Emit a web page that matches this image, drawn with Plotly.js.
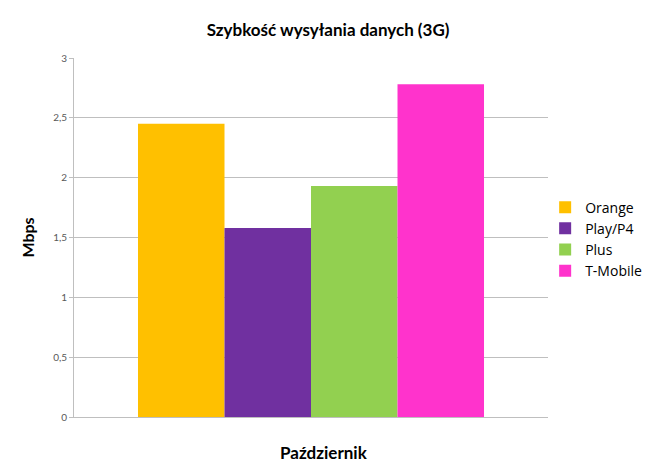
<!DOCTYPE html>
<html>
<head>
<meta charset="utf-8">
<script src="https://cdn.plot.ly/plotly-3.0.1.min.js"></script>
<style>html,body{margin:0;padding:0;background:#fff;}#chart{width:655px;height:474px;}</style>
</head>
<body>
<div id="chart"></div>
<script>
const category = ["Październik"];
const seriesNames = ["Orange", "Play/P4", "Plus", "T-Mobile"];
const seriesValues = [[2.45], [1.58], [1.93], [2.78]];
const seriesColors = ["#FFC000", "#7030A0", "#92D050", "#FF33CC"];
const yTicks = [0, 0.5, 1, 1.5, 2, 2.5, 3];

const FONT = "Lato, 'Open Sans', sans-serif";

const traces = seriesNames.map((name, i) => ({
  type: "bar",
  name: name,
  x: category,
  y: seriesValues[i],
  marker: {color: seriesColors[i]},
  hoverinfo: "name+y"
}));

const layout = {
  width: 655,
  height: 474,
  paper_bgcolor: "#ffffff",
  plot_bgcolor: "#ffffff",
  separators: ", ",
  margin: {l: 74, r: 107, t: 58, b: 57, autoexpand: false},
  font: {family: FONT, color: "#000"},
  barmode: "group",
  bargap: 0.27,
  bargroupgap: 0,
  title: {
    text: "<b>Szybkość wysyłania danych (3G)</b>",
    font: {family: FONT, size: 17, color: "#000"},
    x: 0.536, xanchor: "center", xref: "paper",
    y: 0.937, yanchor: "middle", yref: "container"
  },
  xaxis: {
    showticklabels: false,
    showgrid: false,
    showline: true,
    linecolor: "#bfbfbf",
    linewidth: 1,
    ticks: ""
  },
  yaxis: {
    range: [0, 3],
    tickvals: yTicks,
    tickformat: ",.1~f",
    showgrid: true,
    gridcolor: "#bfbfbf",
    gridwidth: 1,
    showline: true,
    linecolor: "#bfbfbf",
    linewidth: 1,
    ticks: "outside",
    ticklen: 4,
    tickcolor: "#bfbfbf",
    tickfont: {family: FONT, size: 10, color: "#595959"},
    zeroline: false,
    title: {text: "<b>Mbps</b>", font: {family: FONT, size: 16, color: "#000"}, standoff: 14}
  },
  annotations: [{
    text: "<b>Październik</b>",
    xref: "paper", yref: "paper",
    x: 0.528, y: -0.1,
    xanchor: "center", yanchor: "middle",
    showarrow: false,
    font: {family: FONT, size: 17, color: "#000"}
  }],
  legend: {
    x: 0.994, xanchor: "left",
    y: 0.628, yanchor: "top",
    font: {family: "'Open Sans', Lato, sans-serif", size: 14, color: "#000"},
    tracegroupgap: 0,
    itemwidth: 30,
    bgcolor: "rgba(0,0,0,0)"
  },
  showlegend: true
};

Plotly.newPlot("chart", traces, layout, {displayModeBar: false, staticPlot: true});
</script>
</body>
</html>
